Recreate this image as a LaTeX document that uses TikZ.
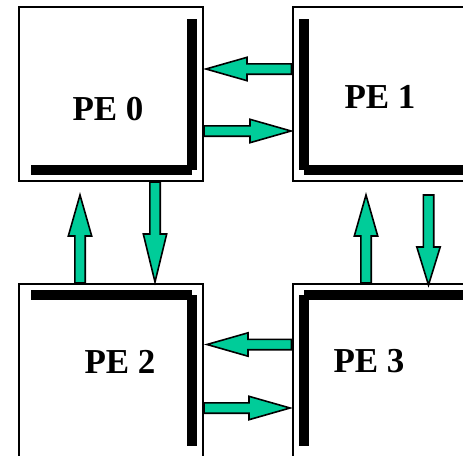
\documentclass[tikz,border=0pt]{standalone}
\usepackage{fontspec}
\setmainfont{Liberation Serif}
\usepackage{tikz}
\usetikzlibrary{positioning, calc}

\definecolor{linkgreen}{RGB}{0,204,153}

\begin{document}
\begin{tikzpicture}[
  x=1pt, y=-1pt,
  node distance=102.5pt and 89.5pt,
  pe/.style={draw, line width=2pt, minimum width=184pt, minimum height=174pt, outer sep=0pt, inner sep=0pt},
  tag/.style={font=\fontsize{35}{40}\selectfont\bfseries, inner sep=0pt},
  bar/.style={line width=10pt},
  link/.style={draw=black, line width=1.6pt, fill=linkgreen,
    to path={($(\tikztostart)!5.2pt!90:(\tikztotarget)$)
      -- ($(\tikztotarget)!#1!(\tikztostart)!5.2pt!90:(\tikztotarget)$)
      -- ($(\tikztotarget)!#1!(\tikztostart)!11.7pt!90:(\tikztotarget)$)
      -- (\tikztotarget)
      -- ($(\tikztotarget)!#1!(\tikztostart)!11.7pt!-90:(\tikztotarget)$)
      -- ($(\tikztotarget)!#1!(\tikztostart)!5.2pt!-90:(\tikztotarget)$)
      -- ($(\tikztostart)!5.2pt!-90:(\tikztotarget)$) -- cycle}},
  link/.default=41pt,
]
  \useasboundingbox (0,0) rectangle (463,455);
  \clip (0,0) rectangle (463,455);

  \node[pe] (pe0) at (111,94) {};
  \node[pe, right=of pe0] (pe1) {};
  \node[pe, below=of pe0] (pe2) {};
  \node[pe, right=of pe2] (pe3) {};

  \node[tag] (t0) at ($(pe0)+(-3,15)$) {PE 0};
  \node[tag] (t1) at ($(pe1)+(-4.5,3)$) {PE 1};
  \node[tag] (t2) at ($(pe2)+(9,-9)$) {PE 2};
  \node[tag] (t3) at ($(pe3)+(-15.5,-9)$) {PE 3};

  % thick corner bars
  \draw[bar] ($(pe0.north east)+(-11.5,12)$) -- ($(pe0.south east)+(-11.5,-11.5)$)
             ($(pe0.south west)+(12,-11.5)$) -- ($(pe0.south east)+(-11.5,-11.5)$);
  \draw[bar] ($(pe1.north west)+(11.5,12)$) -- ($(pe1.south west)+(11.5,-11.5)$)
             ($(pe1.south east)+(-12,-11.5)$) -- ($(pe1.south west)+(11.5,-11.5)$);
  \draw[bar] ($(pe2.south east)+(-11.5,-12)$) -- ($(pe2.north east)+(-11.5,11.5)$)
             ($(pe2.north west)+(12,11.5)$) -- ($(pe2.north east)+(-11.5,11.5)$);
  \draw[bar] ($(pe3.south west)+(11.5,-12)$) -- ($(pe3.north west)+(11.5,11.5)$)
             ($(pe3.north east)+(-12,11.5)$) -- ($(pe3.north west)+(11.5,11.5)$);

  % link end points
  \coordinate (w1) at (291.5,69);    \coordinate (e0) at (206,69);
  \coordinate (e0b) at (204,131);    \coordinate (w1b) at (291,131);
  \coordinate (n2) at (80,283);      \coordinate (s0) at (80,195);
  \coordinate (s0b) at (155,182);    \coordinate (n2b) at (155,282);
  \coordinate (n3) at (366,283);     \coordinate (s1) at (366,195);
  \coordinate (s1b) at (428.5,195);  \coordinate (n3b) at (428.5,285);
  \coordinate (w3) at (291.5,344.5); \coordinate (e2) at (207,344.5);
  \coordinate (e2b) at (204,408);    \coordinate (w3b) at (290,408);

  \draw[link] (w1) to (e0);
  \draw[link] (e0b) to (w1b);
  \draw[link] (n2) to (s0);
  \draw[link=48pt] (s0b) to (n2b);
  \draw[link] (n3) to (s1);
  \draw[link=38pt] (s1b) to (n3b);
  \draw[link] (w3) to (e2);
  \draw[link] (e2b) to (w3b);
\end{tikzpicture}
\end{document}
